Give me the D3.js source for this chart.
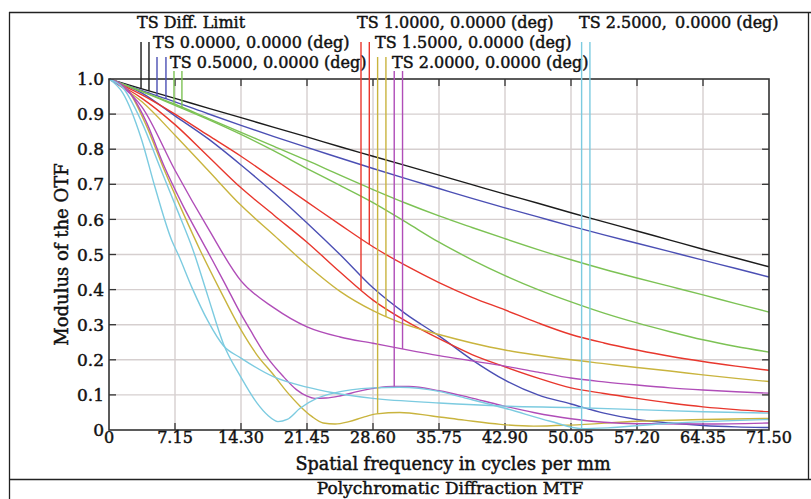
<!doctype html>
<html lang="en">
  <head>
    <meta charset="UTF-8" />
    <title>Polychromatic Diffraction MTF</title>
    <style>
      html, body { margin: 0; padding: 0; background: #fff; }
      svg { display: block; }
      text {
        font-family: "DejaVu Serif", "Liberation Serif", serif;
        fill: #111;
        stroke: #111;
        stroke-width: 0.45px;
      }
    </style>
  </head>
  <body>
    <svg id="chart"></svg>
    <script src="https://d3js.org/d3.v7.min.js"></script>
    <script>
      /* global d3 */

      // axis ticks
      const xTicks = [0, 7.15, 14.3, 21.45, 28.6, 35.75, 42.9, 50.05, 57.2, 64.35, 71.5];
      const xTickLabels = ["0", "7.15", "14.30", "21.45", "28.60", "35.75", "42.90", "50.05", "57.20", "64.35", "71.50"];
      const yTicks = [0, 0.1, 0.2, 0.3, 0.4, 0.5, 0.6, 0.7, 0.8, 0.9, 1.0];
      const yTickLabels = ["0", "0.1", "0.2", "0.3", "0.4", "0.5", "0.6", "0.7", "0.8", "0.9", "1.0"];

      // common sampling (half tick steps)
      const gridFreq = [0, 3.575, 7.15, 10.725, 14.3, 17.875, 21.45, 25.025, 28.6, 32.175, 35.75,
        39.325, 42.9, 46.475, 50.05, 53.625, 57.2, 60.775, 64.35, 67.925, 71.5];

      const diffLimit = [1, 0.972, 0.945, 0.917, 0.89, 0.862, 0.835, 0.807, 0.78, 0.753, 0.726,
        0.699, 0.672, 0.646, 0.619, 0.593, 0.567, 0.541, 0.515, 0.49, 0.465];
      const blueT = [1, 0.967, 0.935, 0.901, 0.868, 0.836, 0.805, 0.775, 0.745, 0.716, 0.688,
        0.66, 0.633, 0.607, 0.581, 0.556, 0.532, 0.508, 0.484, 0.46, 0.436];
      const blueS = [1, 0.96, 0.895, 0.83, 0.755, 0.675, 0.59, 0.5, 0.405, 0.33, 0.268,
        0.2, 0.142, 0.1, 0.074, 0.048, 0.03, 0.02, 0.013, 0.009, 0.007];
      const greenT = [1, 0.965, 0.928, 0.888, 0.848, 0.808, 0.768, 0.726, 0.685, 0.646, 0.61,
        0.577, 0.545, 0.514, 0.485, 0.458, 0.433, 0.409, 0.385, 0.36, 0.336];
      const greenS = [1, 0.964, 0.925, 0.885, 0.842, 0.795, 0.745, 0.697, 0.648, 0.592, 0.535,
        0.485, 0.44, 0.4, 0.365, 0.333, 0.305, 0.28, 0.257, 0.238, 0.222];
      const redT = [1, 0.955, 0.9, 0.84, 0.78, 0.715, 0.65, 0.585, 0.522, 0.468, 0.42,
        0.378, 0.342, 0.305, 0.272, 0.248, 0.228, 0.21, 0.195, 0.182, 0.17];
      const redS = [1, 0.945, 0.87, 0.78, 0.69, 0.612, 0.535, 0.45, 0.37, 0.31, 0.26,
        0.215, 0.18, 0.148, 0.12, 0.104, 0.09, 0.077, 0.066, 0.058, 0.052];
      const yellowT = [1, 0.935, 0.84, 0.74, 0.64, 0.555, 0.47, 0.395, 0.34, 0.3, 0.272,
        0.248, 0.228, 0.213, 0.2, 0.189, 0.178, 0.168, 0.157, 0.147, 0.138];
      const purpleT = [1, 0.92, 0.74, 0.575, 0.425, 0.348, 0.294, 0.265, 0.247, 0.229, 0.212,
        0.197, 0.182, 0.165, 0.148, 0.137, 0.128, 0.12, 0.114, 0.109, 0.105];

      // curves with dips get their own sampling
      const yellowSFreq = [0, 2, 4, 6, 8, 9.86, 12, 14.3, 16, 17.8, 19.3, 20.7, 22, 23.2, 24.5, 26,
        27.5, 29, 31.5, 35, 38.5, 42.4, 46, 50, 57.2, 64.35, 71.5];
      const yellowS = [1, 0.97, 0.87, 0.74, 0.62, 0.513, 0.4, 0.285, 0.215, 0.158, 0.108, 0.068,
        0.038, 0.02, 0.017, 0.024, 0.036, 0.046, 0.05, 0.04, 0.028, 0.016, 0.011, 0.014, 0.025, 0.03, 0.033];
      const purpleSFreq = [0, 2, 4, 6, 8, 10.6, 12.5, 14.3, 15.3, 17, 18.9, 20.3, 21.4, 22.3, 23.5,
        25, 27, 29, 30.8, 32.5, 35.75, 39, 42.4, 46, 50.05, 53.6, 57.2, 64.35, 71.5];
      const purpleS = [1, 0.97, 0.88, 0.75, 0.64, 0.513, 0.42, 0.33, 0.285, 0.212, 0.152, 0.115,
        0.097, 0.09, 0.091, 0.097, 0.11, 0.12, 0.124, 0.124, 0.112, 0.093, 0.071, 0.05, 0.032, 0.022,
        0.018, 0.017, 0.02];
      const cyanTFreq = [0, 1.5, 3.5, 5.5, 7.5, 9.1, 10.725, 12.4, 14.3, 16, 17.2, 18.3, 19.3, 20.7,
        22.5, 24.3, 28.6, 31.5, 35.75, 38, 42.9, 47.8, 51.2, 54, 60, 71.5];
      const cyanT = [1, 0.975, 0.88, 0.75, 0.62, 0.513, 0.38, 0.245, 0.15, 0.078, 0.042, 0.024, 0.03,
        0.062, 0.09, 0.105, 0.12, 0.122, 0.11, 0.095, 0.062, 0.025, 0.004, 0.006, 0.018, 0.03];
      const cyanSFreq = [0, 1.5, 3.5, 5, 6.8, 7.5, 9, 10.725, 12.4, 14.3, 17.8, 21.45, 24.3, 28.6,
        35.75, 42.9, 50.05, 57.2, 64.35, 71.5];
      const cyanS = [1, 0.96, 0.83, 0.69, 0.54, 0.5, 0.405, 0.31, 0.24, 0.205, 0.152, 0.122, 0.106,
        0.09, 0.077, 0.068, 0.064, 0.058, 0.052, 0.048];

      // legend
      const legendLabels = ["TS Diff. Limit", "TS 0.0000, 0.0000 (deg)", "TS 0.5000, 0.0000 (deg)",
        "TS 1.0000, 0.0000 (deg)", "TS 1.5000, 0.0000 (deg)", "TS 2.0000, 0.0000 (deg)",
        "TS 2.5000,\u2009 0.0000 (deg)"];
      const colors = {
        black: "#1c1c1c", blue: "#4b4fb4", green: "#7cc254", red: "#e8372d",
        yellow: "#c9b43e", purple: "#b04db8", cyan: "#7ccbe0"
      };

      const series = [
        { id: "diff", color: colors.black, f: gridFreq, v: diffLimit },
        { id: "blueT", color: colors.blue, f: gridFreq, v: blueT },
        { id: "blueS", color: colors.blue, f: gridFreq, v: blueS },
        { id: "greenT", color: colors.green, f: gridFreq, v: greenT },
        { id: "greenS", color: colors.green, f: gridFreq, v: greenS },
        { id: "redT", color: colors.red, f: gridFreq, v: redT },
        { id: "redS", color: colors.red, f: gridFreq, v: redS },
        { id: "yellowT", color: colors.yellow, f: gridFreq, v: yellowT },
        { id: "yellowS", color: colors.yellow, f: yellowSFreq, v: yellowS },
        { id: "purpleT", color: colors.purple, f: gridFreq, v: purpleT },
        { id: "purpleS", color: colors.purple, f: purpleSFreq, v: purpleS },
        { id: "cyanS", color: colors.cyan, f: cyanSFreq, v: cyanS },
        { id: "cyanT", color: colors.cyan, f: cyanTFreq, v: cyanT }
      ];

      // legend layout: text start x, row, leader frequencies and the curves they fall to
      const legendLayout = [
        { x: 137, row: 0, color: colors.black, at: [3.47, 4.33], to: ["diff", "diff"] },
        { x: 153, row: 1, color: colors.blue, at: [5.2, 6.17], to: ["blueT", "blueT"] },
        { x: 170, row: 2, color: colors.green, at: [7.04, 7.9], to: ["greenT", "greenS"] },
        { x: 357, row: 0, color: colors.red, at: [27.3, 28.2], to: ["redS", "redT"] },
        { x: 375, row: 1, color: colors.yellow, at: [29.1, 30.0], to: ["yellowS", "yellowT"] },
        { x: 392, row: 2, color: colors.purple, at: [30.9, 31.8], to: ["purpleS", "purpleT"] },
        { x: 579, row: 0, color: colors.cyan, at: [51.2, 52.1], to: ["cyanT", "cyanS"] }
      ];
      const rowBaseline = [28, 48, 68];
      const rowLeaderTop = [42, 57, 71];

      const width = 811, height = 499;
      const plot = { left: 109, top: 79, right: 769, bottom: 430 };

      const svg = d3.select("#chart").attr("width", width).attr("height", height);

      const xScale = d3.scaleLinear().domain([0, 71.5]).range([plot.left, plot.right]);
      const yScale = d3.scaleLinear().domain([0, 1]).range([plot.bottom, plot.top]);

      // outer frame
      const frame = svg.append("g").attr("stroke", "#222").attr("stroke-width", 1.3);
      frame.append("line").attr("x1", 9.5).attr("x2", 9.5).attr("y1", 12).attr("y2", height);
      frame.append("line").attr("x1", 9).attr("x2", width).attr("y1", 12.5).attr("y2", 12.5);
      frame.append("line").attr("x1", 808.5).attr("x2", 808.5).attr("y1", 12).attr("y2", 479.5);
      frame.append("line").attr("x1", 9).attr("x2", width).attr("y1", 479.5).attr("y2", 479.5);

      // grid
      const grid = svg.append("g").attr("stroke", "#d6cfcf").attr("stroke-width", 1.4);
      grid.selectAll(".gx").data(xTicks.slice(1, -1)).join("line")
        .attr("x1", (d) => xScale(d)).attr("x2", (d) => xScale(d))
        .attr("y1", plot.top).attr("y2", plot.bottom);
      grid.selectAll(".gy").data(yTicks.slice(1, -1)).join("line")
        .attr("x1", plot.left).attr("x2", plot.right)
        .attr("y1", (d) => yScale(d)).attr("y2", (d) => yScale(d));

      // inward ticks on all four sides
      const tickLen = 7;
      const ticks = svg.append("g").attr("stroke", "#333").attr("stroke-width", 1.3);
      xTicks.slice(1, -1).forEach((d) => {
        ticks.append("line").attr("x1", xScale(d)).attr("x2", xScale(d))
          .attr("y1", plot.bottom).attr("y2", plot.bottom - tickLen);
        ticks.append("line").attr("x1", xScale(d)).attr("x2", xScale(d))
          .attr("y1", plot.top).attr("y2", plot.top + tickLen);
      });
      yTicks.slice(1, -1).forEach((d) => {
        ticks.append("line").attr("x1", plot.left).attr("x2", plot.left + tickLen)
          .attr("y1", yScale(d)).attr("y2", yScale(d));
        ticks.append("line").attr("x1", plot.right).attr("x2", plot.right - tickLen)
          .attr("y1", yScale(d)).attr("y2", yScale(d));
      });

      // curves
      const line = d3.line().curve(d3.curveMonotoneX);
      svg.append("g").attr("fill", "none").attr("stroke-width", 1.4)
        .selectAll("path").data(series).join("path")
        .attr("stroke", (d) => d.color)
        .attr("d", (d) => line(d.f.map((f, i) => [xScale(f), yScale(d.v[i])])));

      // plot frame
      svg.append("rect")
        .attr("x", plot.left).attr("y", plot.top)
        .attr("width", plot.right - plot.left).attr("height", plot.bottom - plot.top)
        .attr("fill", "none").attr("stroke", "#333").attr("stroke-width", 1.6);

      // value of a curve at a frequency (linear between samples)
      function valueAt(id, f) {
        const s = series.find((d) => d.id === id);
        const i = Math.max(1, d3.bisectLeft(s.f, f));
        const t = (f - s.f[i - 1]) / (s.f[i] - s.f[i - 1]);
        return s.v[i - 1] + t * (s.v[i] - s.v[i - 1]);
      }

      // legend leaders and labels
      const legend = svg.append("g");
      legendLayout.forEach((l, k) => {
        l.at.forEach((f, j) => {
          legend.append("line")
            .attr("x1", xScale(f)).attr("x2", xScale(f))
            .attr("y1", rowLeaderTop[l.row]).attr("y2", yScale(valueAt(l.to[j], f)))
            .attr("stroke", l.color).attr("stroke-width", 1.4);
        });
        legend.append("text")
          .attr("x", l.x).attr("y", rowBaseline[l.row])
          .attr("font-size", 16)
          .text(legendLabels[k]);
      });

      // tick labels
      svg.append("g").selectAll("text").data(xTicks).join("text")
        .attr("x", (d) => xScale(d)).attr("y", 443)
        .attr("text-anchor", "middle").attr("font-size", 16)
        .text((d, i) => xTickLabels[i]);
      svg.append("g").selectAll("text").data(yTicks).join("text")
        .attr("x", 104).attr("y", (d) => yScale(d)).attr("dy", "0.36em")
        .attr("text-anchor", "end").attr("font-size", 17)
        .text((d, i) => yTickLabels[i]);

      // axis titles
      svg.append("text").attr("x", 453).attr("y", 470)
        .attr("text-anchor", "middle").attr("font-size", 17.6)
        .text("Spatial frequency in cycles per mm");
      svg.append("text")
        .attr("transform", `translate(68, ${(plot.top + plot.bottom) / 2}) rotate(-90)`)
        .attr("text-anchor", "middle").attr("font-size", 18)
        .text("Modulus of the OTF");
      svg.append("text").attr("x", 450).attr("y", 494)
        .attr("text-anchor", "middle").attr("font-size", 17)
        .text("Polychromatic Diffraction MTF");
    </script>
  </body>
</html>
